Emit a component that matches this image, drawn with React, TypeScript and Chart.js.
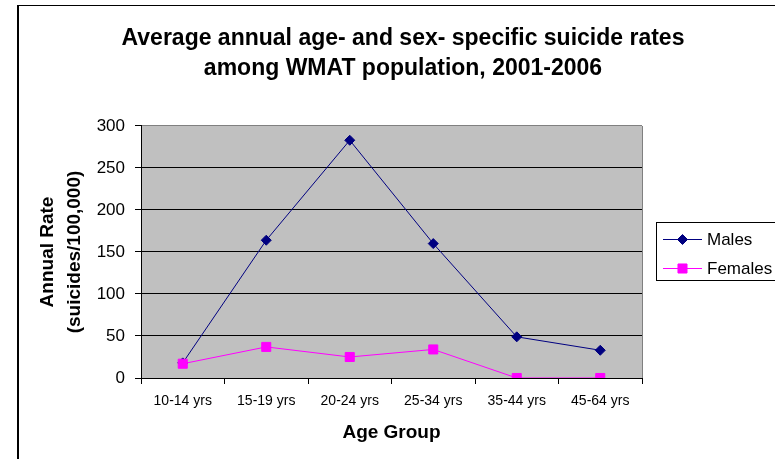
import React, { useEffect, useRef } from 'react';
import { Chart, registerables, Plugin } from 'chart.js';
import { drawPoint } from 'chart.js/helpers';

Chart.register(...registerables);

const ageGroups = ['10-14 yrs', '15-19 yrs', '20-24 yrs', '25-34 yrs', '35-44 yrs', '45-64 yrs'];
const malesRates = [18, 164, 283, 160, 49, 33];
const femalesRates = [17, 37, 25, 34, 0, 0];

const chartTitle = [
  'Average annual age- and sex- specific suicide rates',
  'among WMAT population, 2001-2006',
];
const yAxisTitle = ['Annual Rate', '(suicides/100,000)'];
const xAxisTitle = 'Age Group';

const FONT = '"Liberation Sans", Arial, sans-serif';

// grey plot area with a grey frame, like the old Excel charts
const plotBackground: Plugin<'line'> = {
  id: 'plotBackground',
  beforeDraw(chart) {
    const { ctx, chartArea } = chart;
    if (!chartArea) return;
    ctx.save();
    ctx.fillStyle = '#C0C0C0';
    ctx.fillRect(chartArea.left, chartArea.top, chartArea.right - chartArea.left, chartArea.bottom - chartArea.top);
    ctx.strokeStyle = '#808080';
    ctx.lineWidth = 1;
    ctx.beginPath();
    ctx.moveTo(Math.round(chartArea.right) + 0.5, chartArea.top);
    ctx.lineTo(Math.round(chartArea.right) + 0.5, chartArea.bottom);
    ctx.stroke();
    ctx.restore();
  },
};

// legend in a box, line + marker per series
const boxLegend: Plugin<'line'> = {
  id: 'boxLegend',
  afterDraw(chart) {
    const { ctx } = chart;
    ctx.save();
    ctx.strokeStyle = '#000';
    ctx.lineWidth = 1;
    ctx.strokeRect(656.5, 222.5, 130, 58);

    chart.data.datasets.forEach((ds: any, i: number) => {
      const y = 239 + i * 29;
      ctx.strokeStyle = ds.borderColor;
      ctx.lineWidth = 1;
      ctx.beginPath();
      ctx.moveTo(663, y + 0.5);
      ctx.lineTo(702, y + 0.5);
      ctx.stroke();

      ctx.fillStyle = ds.pointBackgroundColor;
      ctx.strokeStyle = ds.pointBorderColor;
      drawPoint(ctx, { pointStyle: ds.pointStyle, radius: ds.pointRadius, borderWidth: 1, rotation: 0 }, 682.5, y + 0.5);

      ctx.fillStyle = '#000';
      ctx.font = `17px ${FONT}`;
      ctx.textAlign = 'left';
      ctx.textBaseline = 'middle';
      ctx.fillText(ds.label, 707, y + 1);
    });
    ctx.restore();
  },
};

export default function App() {
  const canvasRef = useRef<HTMLCanvasElement | null>(null);

  useEffect(() => {
    if (!canvasRef.current) return;
    document.body.style.margin = '0';
    Chart.defaults.font.family = FONT;
    Chart.defaults.color = '#000';

    const chart = new Chart(canvasRef.current, {
      type: 'line',
      data: {
        labels: ageGroups,
        datasets: [
          {
            label: 'Males',
            data: malesRates,
            borderColor: '#000080',
            backgroundColor: '#000080',
            pointBackgroundColor: '#000080',
            pointBorderColor: '#000080',
            pointStyle: 'rectRot',
            pointRadius: 5,
            pointHoverRadius: 5,
            pointBorderWidth: 1,
            borderWidth: 1,
            tension: 0,
            order: 1,
          },
          {
            label: 'Females',
            data: femalesRates,
            borderColor: '#FF00FF',
            backgroundColor: '#FF00FF',
            pointBackgroundColor: '#FF00FF',
            pointBorderColor: '#FF00FF',
            pointStyle: 'rect',
            pointRadius: 6.4,
            pointHoverRadius: 6.4,
            pointBorderWidth: 1,
            borderWidth: 1,
            tension: 0,
            order: 0,
          },
        ],
      },
      options: {
        responsive: false,
        animation: false,
        layout: {
          padding: 0,
        },
        plugins: {
          legend: { display: false },
          tooltip: { enabled: false },
          title: {
            display: true,
            text: chartTitle,
            color: '#000',
            font: { family: FONT, size: 23, weight: 'bold', lineHeight: 1.28 },
            padding: { top: 24.3, bottom: 42.8 },
          },
        },
        scales: {
          x: {
            offset: true,
            afterFit: (scale) => {
              scale.height = 81;
            },
            grid: {
              offset: true,
              drawOnChartArea: false,
              drawTicks: true,
              tickLength: 6,
              color: '#000',
            },
            border: { display: true, color: '#000', width: 1 },
            ticks: {
              color: '#000',
              padding: 9,
              maxRotation: 0,
              font: { family: FONT, size: 14 },
            },
            title: {
              display: true,
              text: xAxisTitle,
              color: '#000',
              font: { family: FONT, size: 19, weight: 'bold', lineHeight: 1.2 },
              padding: { top: 0, bottom: 14.6 },
            },
          },
          y: {
            min: 0,
            max: 300,
            afterFit: (scale) => {
              scale.width = 141;
            },
            grid: {
              drawTicks: true,
              tickLength: 6,
              tickColor: '#000',
              color: (c: any) => (c.tick && c.tick.value === 300 ? '#808080' : '#000'),
              lineWidth: 1,
            },
            border: { display: true, color: '#000', width: 1 },
            ticks: {
              stepSize: 50,
              color: '#000',
              padding: 10,
              font: { family: FONT, size: 17 },
            },
            title: {
              display: true,
              text: yAxisTitle,
              color: '#000',
              font: { family: FONT, size: 19, weight: 'bold', lineHeight: 1.42 },
              padding: { top: 34.5, bottom: 0 },
            },
          },
          // empty right-hand band that holds the legend
          legendSpace: {
            type: 'linear',
            position: 'right',
            display: true,
            afterFit: (scale) => {
              scale.width = 164;
            },
            grid: { display: false },
            border: { display: false },
            ticks: { display: false },
          },
        },
      },
      plugins: [plotBackground, boxLegend],
    });

    return () => {
      chart.destroy();
    };
  }, []);

  return (
    <div
      style={{
        position: 'relative',
        width: 775,
        height: 459,
        overflow: 'hidden',
        background: '#fff',
      }}
    >
      <canvas ref={canvasRef} width={806} height={459} style={{ position: 'absolute', left: 0, top: 0 }} />
      <div
        style={{
          position: 'absolute',
          left: 17,
          top: 5,
          width: 800,
          height: 500,
          borderLeft: '2px solid #000',
          borderTop: '1px solid #000',
          pointerEvents: 'none',
        }}
      />
    </div>
  );
}
